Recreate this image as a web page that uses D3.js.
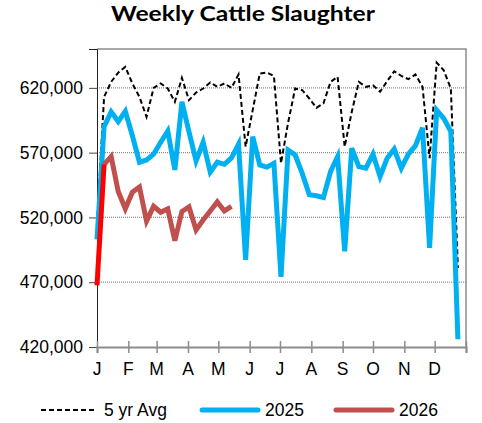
<!DOCTYPE html>
<html lang="en">
  <head>
    <meta charset="UTF-8" />
    <title>Weekly Cattle Slaughter</title>
    <script src="https://cdn.jsdelivr.net/npm/d3@7"></script>
    <style>
      body { margin: 0; background: #fff; }
      svg { display: block; }
    </style>
  </head>
  <body>
    <svg width="482" height="423"></svg>

    <script>
      // weekly head counts, one value per week starting first week of Jan
      var avg5yr = [
        515000, 613000, 624600, 631800, 636200, 623400, 613000, 597700, 620000,
        623400, 619500, 609200, 627700, 610500, 616400, 619500, 624100, 620800,
        623400, 620000, 630300, 574600, 602800, 631000, 631800, 629200, 561800,
        593000, 619500, 618200, 611800, 604600, 608000, 624600, 628500, 574600,
        601500, 624600, 620800, 622000, 617000, 625200, 632800, 629200, 626700,
        630300, 620800, 565700, 639500, 633600, 619500, 481000,
      ];
      var y2025 = [
        503000, 590000, 601500, 594000, 602000, 583000, 562600, 564400, 568800,
        578000, 586700, 556700, 609200, 586000, 563600, 578000, 555000, 562600,
        561000, 566000, 576500, 487300, 582300, 560500, 558800, 561800, 474200,
        572000, 568200, 554000, 537500, 536700, 535400, 555400, 567000, 493900,
        573400, 559200, 558000, 568800, 551600, 565700, 572800, 558000, 568800,
        575400, 589200, 496500, 602900, 596500, 586200, 426000,
      ];
      var y2026 = [
        467500, 561000, 567000, 540000, 526700, 539500, 543500, 517300, 528600,
        524000, 526600, 502000, 524600, 528100, 510300, 518000, 525000, 532000,
        525000, 528500,
      ];
      var monthLabels = ["J", "F", "M", "A", "M", "J", "J", "A", "S", "O", "N", "D"];
      var monthStartDay = [0, 31, 59, 90, 120, 151, 181, 212, 243, 273, 304, 334, 365];
      var yTicks = [420000, 470000, 520000, 570000, 620000];

      var svg = d3.select("svg"),
        margin = { top: 49, right: 16, bottom: 76, left: 97 },
        width = +svg.attr("width") - margin.left - margin.right,
        height = +svg.attr("height") - margin.top - margin.bottom;

      var axisFont = "'Liberation Sans', Arial, sans-serif";

      var x = d3.scaleLinear().domain([0, 365]).range([0, width]),
        y = d3.scaleLinear().domain([420000, 650000]).range([height, 0]);

      svg
        .append("text")
        .attr("x", 243)
        .attr("y", 21)
        .attr("text-anchor", "middle")
        .attr("textLength", 264)
        .attr("lengthAdjust", "spacingAndGlyphs")
        .style("font-family", "Lato, 'Open Sans', sans-serif")
        .style("font-weight", "bold")
        .style("font-size", "21px")
        .text("Weekly Cattle Slaughter");

      var g = svg
        .append("g")
        .attr("transform", "translate(" + margin.left + "," + margin.top + ")");

      // dotted gridlines
      g.append("g")
        .selectAll("line")
        .data(yTicks.slice(1))
        .enter()
        .append("line")
        .attr("x1", 0)
        .attr("x2", width)
        .attr("y1", function (d) { return y(d); })
        .attr("y2", function (d) { return y(d); })
        .attr("stroke", "#8c8c8c")
        .attr("stroke-width", 1.2)
        .attr("stroke-dasharray", "1,1");

      // frame top / right
      g.append("path")
        .attr("d", "M0,0H" + width + "V" + height)
        .attr("fill", "none")
        .attr("stroke", "#8c8c8c")
        .attr("stroke-width", 1.5);

      // y axis
      var yAxis = g
        .append("g")
        .call(
          d3.axisLeft(y)
            .tickValues(yTicks)
            .tickSize(8)
            .tickPadding(6)
            .tickFormat(d3.format(","))
        );
      yAxis.select(".domain").attr("stroke", "#222");
      yAxis.selectAll(".tick line").attr("stroke", "#444");
      yAxis.selectAll("text")
        .style("font-family", axisFont)
        .style("font-size", "17.5px")
        .attr("fill", "#000");

      // x axis, month ticks cross the axis line
      var xAxis = g
        .append("g")
        .attr("transform", "translate(0," + height + ")")
        .call(d3.axisBottom(x).tickValues(monthStartDay).tickSize(6).tickFormat(""));
      xAxis.select(".domain").attr("stroke", "#8c8c8c").attr("stroke-width", 2);
      xAxis.selectAll(".tick line")
        .attr("y1", -6)
        .attr("stroke", "#8c8c8c")
        .attr("stroke-width", 1.5);

      g.append("g")
        .selectAll("text")
        .data(monthLabels)
        .enter()
        .append("text")
        .attr("x", function (d, i) { return x(monthStartDay[i]); })
        .attr("y", height + 28)
        .attr("text-anchor", "middle")
        .style("font-family", axisFont)
        .style("font-size", "17.5px")
        .text(function (d) { return d; });

      var line = d3
        .line()
        .x(function (d, i) { return x(i * 7); })
        .y(function (d) { return y(d); });

      g.append("path")
        .datum(avg5yr)
        .attr("d", line)
        .attr("fill", "none")
        .attr("stroke", "#000")
        .attr("stroke-width", 2)
        .attr("stroke-dasharray", "5,3");

      g.append("path")
        .datum(y2025)
        .attr("d", line)
        .attr("fill", "none")
        .attr("stroke", "#00b0f0")
        .attr("stroke-width", 5)
        .attr("stroke-linejoin", "miter");

      // 2026: rest of series, then the first week segment in bright red
      var line26 = d3
        .line()
        .defined(function (d, i) { return i >= 1; })
        .x(function (d, i) { return x(i * 7); })
        .y(function (d) { return y(d); });
      g.append("path")
        .datum(y2026)
        .attr("d", line26)
        .attr("fill", "none")
        .attr("stroke", "#c0504d")
        .attr("stroke-width", 5);

      g.append("path")
        .datum(y2026.slice(0, 2))
        .attr("d", line)
        .attr("fill", "none")
        .attr("stroke", "#ff0000")
        .attr("stroke-width", 5);

      // legend
      var legendItems = [
        { name: "5 yr Avg", color: "#000", w: 2, dash: "5,3", x1: 41, x2: 97 },
        { name: "2025", color: "#00b0f0", w: 5, dash: null, x1: 202, x2: 258 },
        { name: "2026", color: "#c0504d", w: 5, dash: null, x1: 336, x2: 392 },
      ];
      var legend = svg.append("g");
      legend
        .selectAll("line")
        .data(legendItems)
        .enter()
        .append("line")
        .attr("x1", function (d) { return d.x1; })
        .attr("x2", function (d) { return d.x2; })
        .attr("y1", 410)
        .attr("y2", 410)
        .attr("stroke", function (d) { return d.color; })
        .attr("stroke-width", function (d) { return d.w; })
        .attr("stroke-linecap", function (d) { return d.dash ? "butt" : "round"; })
        .attr("stroke-dasharray", function (d) { return d.dash; });
      legend
        .selectAll("text")
        .data(legendItems)
        .enter()
        .append("text")
        .attr("x", function (d) { return d.x2 + 7; })
        .attr("y", 416)
        .style("font-family", axisFont)
        .style("font-size", "17.5px")
        .text(function (d) { return d.name; });
    </script>
  </body>
</html>
